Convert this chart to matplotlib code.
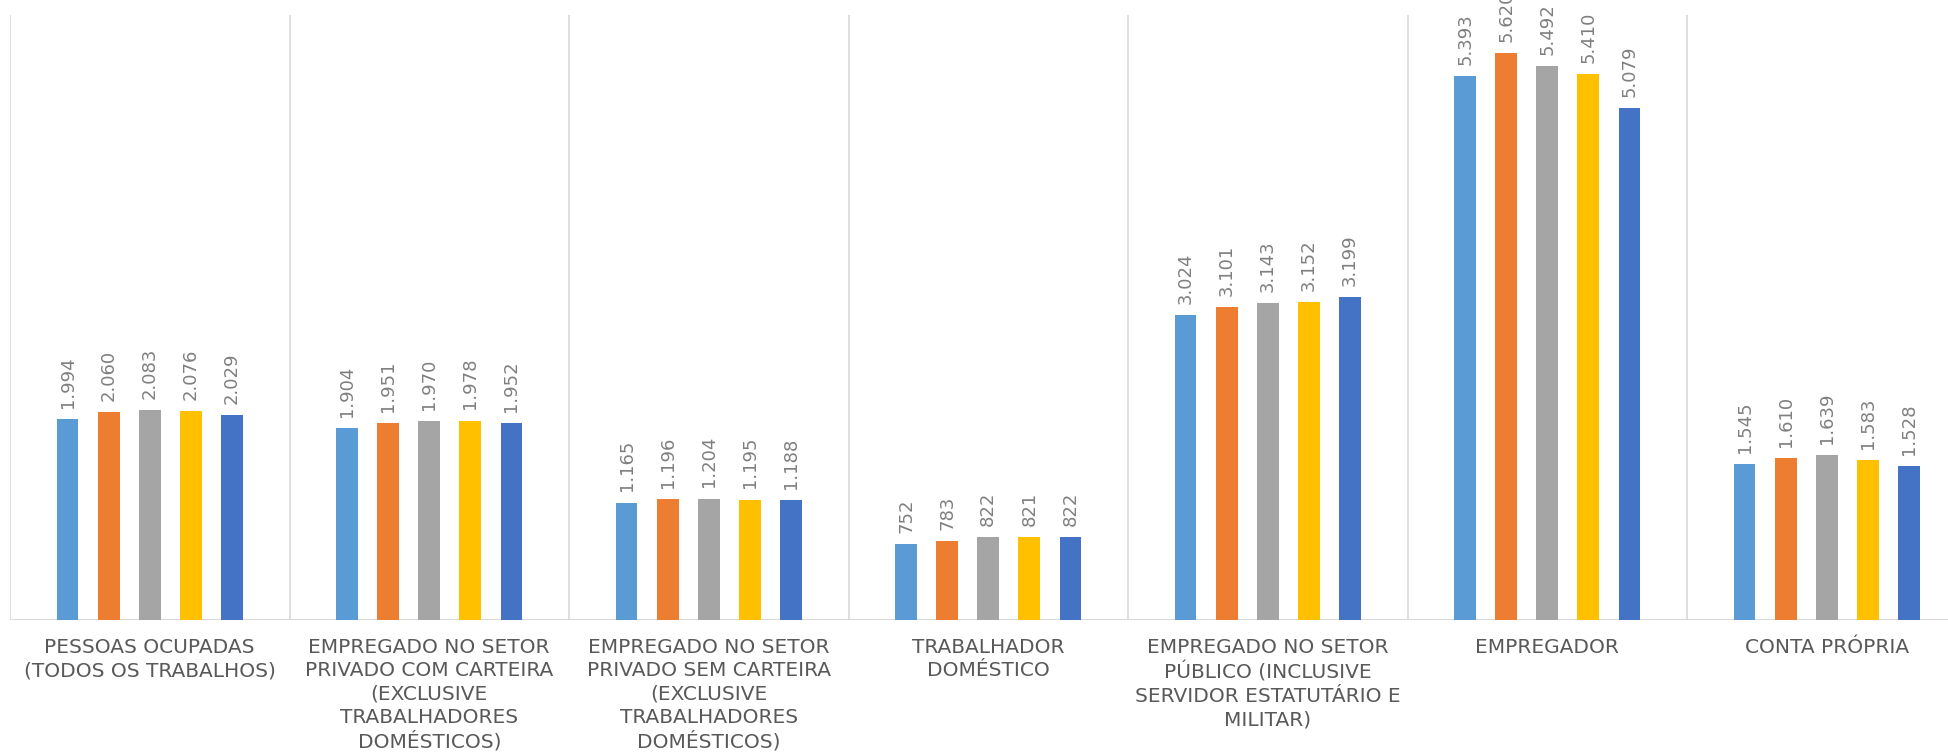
import matplotlib
matplotlib.use("Agg")
import matplotlib.pyplot as plt
import numpy as np

categories = [
    "PESSOAS OCUPADAS\n(TODOS OS TRABALHOS)",
    "EMPREGADO NO SETOR\nPRIVADO COM CARTEIRA\n(EXCLUSIVE\nTRABALHADORES\nDOMÉSTICOS)",
    "EMPREGADO NO SETOR\nPRIVADO SEM CARTEIRA\n(EXCLUSIVE\nTRABALHADORES\nDOMÉSTICOS)",
    "TRABALHADOR\nDOMÉSTICO",
    "EMPREGADO NO SETOR\nPÚBLICO (INCLUSIVE\nSERVIDOR ESTATUTÁRIO E\nMILITAR)",
    "EMPREGADOR",
    "CONTA PRÓPRIA",
]

series_1 = [1994, 1904, 1165, 752, 3024, 5393, 1545]
series_2 = [2060, 1951, 1196, 783, 3101, 5620, 1610]
series_3 = [2083, 1970, 1204, 822, 3143, 5492, 1639]
series_4 = [2076, 1978, 1195, 821, 3152, 5410, 1583]
series_5 = [2029, 1952, 1188, 822, 3199, 5079, 1528]

series = [series_1, series_2, series_3, series_4, series_5]
colors = ["#5B9BD5", "#ED7D31", "#A5A5A5", "#FFC000", "#4472C4"]

W, H = 1948, 752
fig = plt.figure(figsize=(W / 100, H / 100), dpi=100)
left_px, right_px_width = 10, 1956.5
top_px, base_px = 15, 620
ax = fig.add_axes([left_px / W, (H - base_px) / H, right_px_width / W, (base_px - top_px) / H])

x = np.arange(len(categories))
spacing = 0.147
width = 0.078
font = "DejaVu Sans"

for i, (vals, c) in enumerate(zip(series, colors)):
    pos = x + (i - 2) * spacing
    ax.bar(pos, vals, width=width, color=c, zorder=3)
    for px, v in zip(pos, vals):
        ax.annotate(f"{v:,}".replace(",", "."), xy=(px, v), xytext=(0, 8),
                    textcoords="offset points", rotation=90, ha="center", va="bottom",
                    fontsize=13, color="#7F7F7F", family=font, clip_on=False)

ax.set_xlim(-0.5, len(categories) - 0.5)
ax.set_ylim(0, 6000)
for k in range(len(categories) + 1):
    ax.axvline(k - 0.5, color="#D9D9D9", lw=1.2, zorder=1)
ax.axhline(0, color="#D9D9D9", lw=1.5, zorder=2)

for s in ax.spines.values():
    s.set_visible(False)
ax.set_yticks([])
ax.set_xticks(x)
ax.set_xticklabels(categories, fontsize=14.5, color="#595959", family=font,
                   linespacing=1.28)
ax.tick_params(axis="x", length=0, pad=13)

fig.savefig("out.png", dpi=100)
